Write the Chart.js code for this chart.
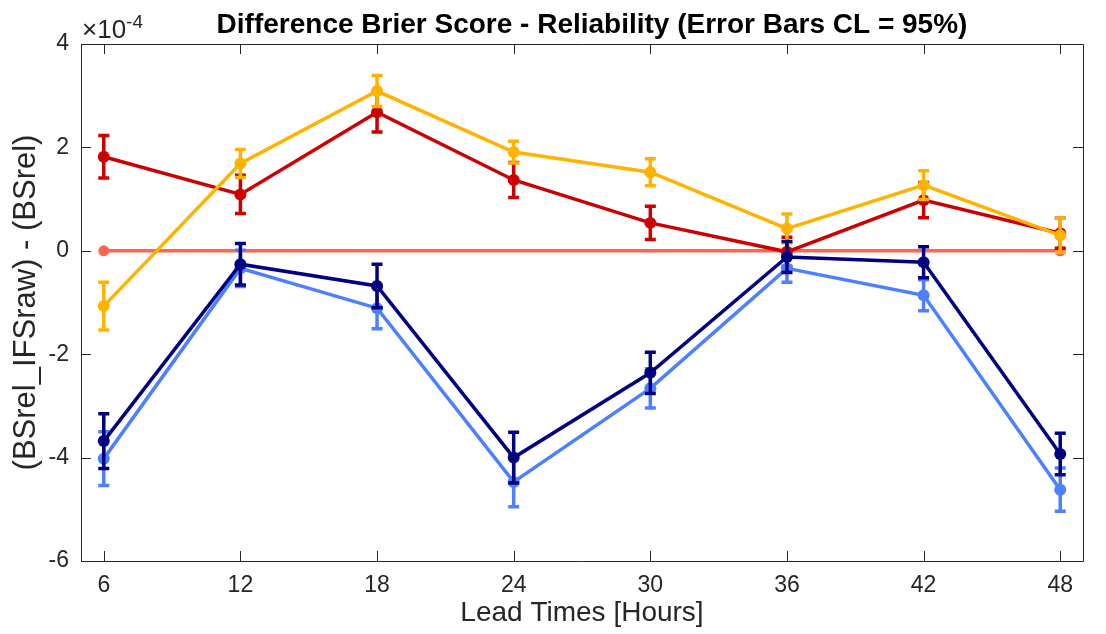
<!DOCTYPE html>
<html><head><meta charset="utf-8">
<script src="https://cdn.jsdelivr.net/npm/chart.js@4.4.0/dist/chart.umd.min.js"></script>
<style>html,body{margin:0;padding:0;background:#fff;} canvas{display:block;}</style>
</head><body>
<canvas id="c" width="1106" height="634"></canvas>
<script>
// ---- data (values in units of 1e-4) ----
const leadTimes = [6, 12, 18, 24, 30, 36, 42, 48];
const yTickValues = [-6, -4, -2, 0, 2, 4];
const scaleExponent = -4;

const redValues    = [1.82, 1.09, 2.68, 1.37, 0.54, -0.02, 0.98, 0.34];
const redErrors    = [0.41, 0.37, 0.38, 0.34, 0.32, 0.28, 0.34, 0.29];
const yellowValues = [-1.07, 1.69, 3.09, 1.91, 1.52, 0.43, 1.27, 0.30];
const yellowErrors = [0.46, 0.27, 0.30, 0.21, 0.26, 0.28, 0.28, 0.33];
const zeroValues   = [0, 0, 0, 0, 0, 0, 0, 0];
const navyValues   = [-3.68, -0.26, -0.68, -4.00, -2.36, -0.12, -0.22, -3.93];
const navyErrors   = [0.53, 0.40, 0.42, 0.49, 0.40, 0.30, 0.30, 0.40];
const blueValues   = [-4.02, -0.34, -1.11, -4.47, -2.66, -0.34, -0.86, -4.62];
const blueErrors   = [0.52, 0.35, 0.40, 0.48, 0.38, 0.27, 0.30, 0.42];

const titleText = 'Difference Brier Score - Reliability (Error Bars CL = 95%)';
const xTitle = 'Lead Times [Hours]';
const yTitle = '(BSrel_IFSraw) - (BSrel)';

const FONT = '"Liberation Sans", Arial, Helvetica, sans-serif';
const AXIS_COLOR = '#262626';

function series(vals, errs, color, order, radius) {
  return {
    data: leadTimes.map((x, i) => ({x: x, y: vals[i]})),
    errors: errs,
    borderColor: color,
    backgroundColor: color,
    borderWidth: 3.5,
    pointRadius: radius,
    pointHoverRadius: radius,
    pointBorderWidth: 0,
    pointBackgroundColor: color,
    tension: 0,
    order: order
  };
}

const errorBarPlugin = {
  id: 'errorBars',
  beforeDatasetDraw(chart, args) {
    const ds = chart.data.datasets[args.index];
    if (!ds.errors) return;
    const ctx = chart.ctx, ys = chart.scales.y;
    ctx.save();
    ctx.strokeStyle = ds.borderColor;
    ctx.lineWidth = 3.5;
    args.meta.data.forEach((pt, i) => {
      const v = ds.data[i].y, e = ds.errors[i];
      const y1 = ys.getPixelForValue(v + e), y2 = ys.getPixelForValue(v - e);
      const x = pt.x, hw = 5.5;
      ctx.beginPath();
      ctx.moveTo(x, y1); ctx.lineTo(x, y2);
      ctx.moveTo(x - hw, y1); ctx.lineTo(x + hw, y1);
      ctx.moveTo(x - hw, y2); ctx.lineTo(x + hw, y2);
      ctx.stroke();
    });
    ctx.restore();
  }
};

const boxPlugin = {
  id: 'box',
  afterDraw(chart) {
    const ctx = chart.ctx, a = chart.chartArea;
    const xs = chart.scales.x, ys = chart.scales.y;
    ctx.save();
    ctx.strokeStyle = AXIS_COLOR;
    ctx.lineWidth = 1;
    ctx.beginPath();
    ctx.rect(Math.round(a.left) + 0.5, Math.round(a.top) + 0.5,
             Math.round(a.right - a.left), Math.round(a.bottom - a.top));
    const tl = 10;
    xs.ticks.forEach(t => {
      const x = Math.round(xs.getPixelForValue(t.value)) + 0.5;
      ctx.moveTo(x, a.bottom); ctx.lineTo(x, a.bottom - tl);
      ctx.moveTo(x, a.top); ctx.lineTo(x, a.top + tl);
    });
    ys.ticks.forEach(t => {
      const y = Math.round(ys.getPixelForValue(t.value)) + 0.5;
      ctx.moveTo(a.left, y); ctx.lineTo(a.left + tl, y);
      ctx.moveTo(a.right, y); ctx.lineTo(a.right - tl, y);
    });
    ctx.stroke();
    // title
    ctx.fillStyle = '#000';
    ctx.font = 'bold 28px ' + FONT;
    ctx.textAlign = 'center';
    ctx.textBaseline = 'alphabetic';
    ctx.fillText(titleText, (a.left + a.right) / 2 + 10, 33);
    // exponent label
    ctx.fillStyle = AXIS_COLOR;
    ctx.textAlign = 'left';
    ctx.font = '26px ' + FONT;
    const base = '\u00D710';
    ctx.fillText(base, a.left + 1, 38);
    const w = ctx.measureText(base).width;
    ctx.font = '19px ' + FONT;
    ctx.fillText(String(scaleExponent), a.left + 1 + w, 28);
    ctx.restore();
  }
};

const zeroRadius = leadTimes.map((x, i) => (i === 0 || i === leadTimes.length - 1) ? 5.5 : 0);

new Chart(document.getElementById('c'), {
  type: 'line',
  data: {
    datasets: [
      series(navyValues, navyErrors, '#000080', 0, 6),
      series(blueValues, blueErrors, '#4D80FF', 1, 6),
      series(yellowValues, yellowErrors, '#FFB300', 2, 6),
      series(redValues, redErrors, '#CC0000', 3, 6),
      series(zeroValues, null, '#FF6650', 4, zeroRadius)
    ]
  },
  options: {
    responsive: false,
    animation: false,
    devicePixelRatio: 1,
    layout: {padding: {top: 44, right: 23, left: 0, bottom: 0}},
    plugins: {legend: {display: false}, title: {display: false}, tooltip: {enabled: false}},
    scales: {
      x: {
        type: 'linear', min: 5, max: 49,
        afterBuildTicks: s => { s.ticks = leadTimes.map(v => ({value: v})); },
        afterFit: s => { s.height = 73; },
        grid: {display: false, drawTicks: false},
        border: {display: false},
        ticks: {font: {family: FONT, size: 23}, color: AXIS_COLOR, padding: 11, maxRotation: 0, autoSkip: false},
        title: {display: true, text: xTitle, font: {family: FONT, size: 28}, color: AXIS_COLOR, padding: {top: 0, bottom: 4}}
      },
      y: {
        type: 'linear', min: -6, max: 4,
        afterBuildTicks: s => { s.ticks = yTickValues.map(v => ({value: v})); },
        afterFit: s => { s.width = 81; },
        grid: {display: false, drawTicks: false},
        border: {display: false},
        ticks: {font: {family: FONT, size: 23}, color: AXIS_COLOR, padding: 12},
        title: {display: true, text: yTitle, font: {family: FONT, size: 31}, color: AXIS_COLOR, padding: {top: 8, bottom: 0}}
      }
    }
  },
  plugins: [errorBarPlugin, boxPlugin]
});
</script>
</body></html>
